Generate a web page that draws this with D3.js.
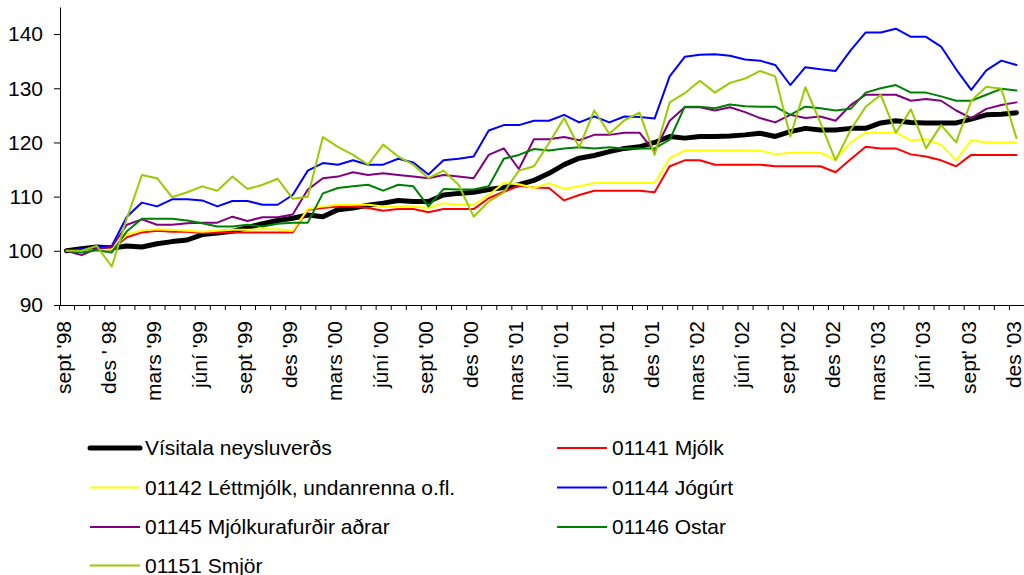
<!DOCTYPE html>
<html>
<head>
<meta charset="utf-8">
<script src="https://cdnjs.cloudflare.com/ajax/libs/d3/7.8.5/d3.min.js"></script>
<style>
body { margin: 0; background: #fff; }
svg { font-family: "Liberation Sans", Arial, sans-serif; }
</style>
</head>
<body>
<div id="chart"></div>
<script>
var width = 1024;
var height = 575;

// months sept '98 .. des '03 (64 months), label on every 3rd
var months = d3.range(64);
var tickLabels = ["sept '98", "des ' 98", "mars '99", "júní '99", "sept '99", "des '99",
    "mars '00", "júní '00", "sept '00", "des '00", "mars '01", "júní '01", "sept '01",
    "des '01", "mars '02", "júní '02", "sept '02", "des '02", "mars '03", "júní '03",
    "sept' 03", "des '03"];
var yTicks = [90, 100, 110, 120, 130, 140];

var visitala = [100.0, 100.4, 100.7, 100.5, 100.9, 100.7, 101.3, 101.7, 102.0, 103.0, 103.3, 103.6, 104.3, 105.0, 105.6, 106.0,
    106.6, 106.3, 107.6, 107.9, 108.4, 108.8, 109.3, 109.1, 109.1, 110.3, 110.6, 110.8, 111.3, 111.7, 112.2, 113.0,
    114.3, 115.9, 117.1, 117.6, 118.3, 118.9, 119.2, 120.0, 121.1, 120.8, 121.1, 121.1, 121.2, 121.4, 121.7, 121.1,
    122.0, 122.6, 122.3, 122.3, 122.6, 122.6, 123.6, 124.0, 123.7, 123.6, 123.6, 123.6, 124.3, 125.1, 125.2, 125.5];
var mjolk = [100.0, 100.1, 100.3, 100.3, 102.5, 103.4, 103.7, 103.5, 103.5, 103.3, 103.4, 103.4, 103.4, 103.4, 103.4, 103.4,
    107.6, 107.9, 108.2, 108.2, 107.9, 107.4, 107.7, 107.7, 107.1, 107.7, 107.7, 107.7, 109.7, 110.9, 112.0, 111.7,
    111.6, 109.3, 110.3, 111.1, 111.1, 111.1, 111.1, 110.8, 115.6, 116.7, 116.7, 115.9, 115.9, 115.9, 115.9, 115.6,
    115.6, 115.6, 115.6, 114.5, 116.9, 119.2, 118.9, 118.9, 117.8, 117.4, 116.7, 115.6, 117.7, 117.7, 117.7, 117.7];
var lettmjolk = [100.0, 99.8, 100.2, 100.3, 103.0, 103.8, 104.0, 103.9, 103.7, 103.5, 103.7, 103.9, 103.9, 104.0, 104.0, 103.7,
    107.7, 108.2, 108.5, 108.5, 108.5, 108.2, 108.2, 108.2, 107.9, 108.8, 108.5, 108.5, 110.3, 112.5, 112.3, 111.6,
    112.5, 111.4, 111.9, 112.5, 112.5, 112.5, 112.5, 112.5, 117.1, 118.5, 118.5, 118.5, 118.5, 118.5, 118.5, 117.8,
    118.1, 118.1, 118.1, 116.8, 120.0, 121.8, 121.8, 121.8, 120.4, 120.6, 119.6, 116.7, 120.4, 120.0, 120.0, 120.0];
var jogurt = [100.0, 100.3, 100.7, 100.9, 106.3, 108.9, 108.2, 109.5, 109.5, 109.3, 108.2, 109.2, 109.2, 108.5, 108.5, 110.3,
    114.8, 116.2, 115.9, 116.7, 115.9, 115.9, 117.0, 116.3, 114.1, 116.7, 117.0, 117.4, 122.2, 123.2, 123.2, 124.0,
    124.0, 125.1, 123.7, 124.8, 123.7, 124.8, 124.7, 124.4, 132.2, 135.8, 136.2, 136.3, 136.0, 135.3, 135.1, 134.3,
    130.6, 133.9, 133.5, 133.2, 137.0, 140.3, 140.3, 141.0, 139.5, 139.5, 137.7, 133.5, 129.7, 133.3, 135.1, 134.3];
var mjolkurafurdir = [100.0, 99.2, 100.4, 100.7, 104.8, 105.8, 104.8, 104.8, 105.1, 105.2, 105.2, 106.3, 105.5, 106.2, 106.2, 106.7,
    111.3, 113.4, 113.7, 114.5, 114.0, 114.3, 114.0, 113.7, 113.4, 114.0, 113.7, 113.4, 117.7, 118.9, 115.1, 120.6,
    120.6, 121.0, 120.4, 121.4, 121.4, 121.8, 121.8, 118.3, 124.0, 126.5, 126.5, 125.9, 126.5, 125.6, 124.5, 123.7,
    125.1, 124.5, 124.8, 124.0, 126.9, 128.8, 128.8, 128.8, 127.7, 128.0, 127.7, 125.9, 124.5, 126.2, 126.9, 127.4];
var ostar = [100.0, 99.7, 100.1, 99.7, 103.6, 105.9, 105.9, 105.9, 105.6, 105.1, 104.5, 104.5, 104.8, 104.5, 105.0, 105.2,
    105.2, 110.6, 111.6, 111.9, 112.2, 111.1, 112.2, 111.9, 108.2, 111.4, 111.3, 111.3, 111.9, 117.0, 117.7, 118.8,
    118.5, 118.9, 119.1, 118.9, 119.1, 118.9, 118.9, 118.9, 120.5, 126.6, 126.6, 126.3, 127.0, 126.7, 126.6, 126.6,
    125.1, 126.6, 126.3, 125.9, 126.2, 129.2, 130.0, 130.6, 129.2, 129.2, 128.5, 127.7, 127.7, 128.8, 129.9, 129.6];
var smjor = [100.0, 100.0, 100.9, 97.1, 106.0, 114.0, 113.4, 109.9, 110.8, 111.9, 111.1, 113.7, 111.4, 112.2, 113.3, 109.6,
    110.0, 121.0, 119.2, 117.7, 115.9, 119.6, 117.4, 115.9, 113.4, 114.8, 112.2, 106.3, 109.1, 110.8, 114.8, 115.6,
    119.9, 124.5, 119.1, 125.9, 121.6, 124.1, 125.5, 117.7, 127.4, 129.1, 131.4, 129.2, 131.0, 131.8, 133.2, 132.2,
    121.1, 130.2, 123.6, 116.7, 122.3, 126.6, 128.8, 121.8, 126.1, 118.9, 123.2, 120.0, 127.7, 130.3, 129.9, 120.8];

var seriesNames = ["Vísitala neysluverðs", "01141 Mjólk", "01142 Léttmjólk, undanrenna o.fl.", "01144 Jógúrt",
    "01145 Mjólkurafurðir aðrar", "01146 Ostar", "01151 Smjör"];
var seriesValues = [visitala, mjolk, lettmjolk, jogurt, mjolkurafurdir, ostar, smjor];
var seriesColors = ["#000000", "#ff0000", "#ffff00", "#0000ff", "#800080", "#008000", "#99cc00"];
var seriesWidths = [5, 2, 2, 2, 2, 2, 2];

var series = seriesNames.map(function(n, i) {
    return { name: n, values: seriesValues[i], color: seriesColors[i], w: seriesWidths[i] };
});

var svg = d3.select("#chart").append("svg")
    .attr("width", width)
    .attr("height", height);

var plotLeft = 59, plotRight = 1024, plotBottom = 305, plotTop = 7;

var x = d3.scaleBand().domain(months).range([plotLeft, plotRight]);
var xb = d3.scaleLinear().domain([0, months.length]).range([plotLeft, plotRight]);
var y = d3.scaleLinear().domain([90, 145]).range([plotBottom, plotTop]);

//Y axis
var yAxis = svg.append("g")
    .attr("transform", "translate(" + (plotLeft + 1) + ",0)")
    .call(d3.axisLeft(y).tickValues(yTicks).tickSize(6).tickSizeOuter(0).tickPadding(11));
yAxis.selectAll("text").attr("font-size", 21).attr("fill", "#000").attr("font-family", "Liberation Sans, Arial, sans-serif");
yAxis.selectAll("line, path").attr("stroke", "#000");

//X axis ticks at month boundaries
var xAxis = svg.append("g")
    .attr("transform", "translate(0," + plotBottom + ")")
    .call(d3.axisBottom(xb).tickValues(d3.range(months.length + 1)).tickSize(5).tickSizeOuter(0).tickFormat(""));
xAxis.selectAll("line, path").attr("stroke", "#000");

//X labels, rotated
svg.append("g").selectAll("text")
    .data(tickLabels)
    .enter()
    .append("text")
    .attr("transform", function(d, i) {
        var cx = x(i * 3) + x.bandwidth() / 2 - 3;
        return "translate(" + cx + "," + (plotBottom + 16) + ") rotate(-90)";
    })
    .attr("text-anchor", "end")
    .attr("dy", "0.35em")
    .attr("font-size", 21)
    .attr("fill", "#000")
    .text(function(d) { return d; });

//Lines
var line = d3.line()
    .x(function(d, i) { return x(i) + x.bandwidth() / 2; })
    .y(function(d) { return y(d); });

svg.append("g").selectAll("path")
    .data(series)
    .enter()
    .append("path")
    .attr("d", function(d) { return line(d.values); })
    .attr("fill", "none")
    .attr("stroke", function(d) { return d.color; })
    .attr("stroke-width", function(d) { return d.w; })
    .attr("stroke-linejoin", "round")
    .attr("stroke-linecap", "round");

//Legend, 2 columns
var legendCols = [90, 557];
var legendRows = [448, 487.5, 527, 565.5];
var legend = svg.append("g").selectAll("g")
    .data(series)
    .enter()
    .append("g")
    .attr("transform", function(d, i) {
        return "translate(" + legendCols[i % 2] + "," + legendRows[Math.floor(i / 2)] + ")";
    });
legend.append("line")
    .attr("x1", 0).attr("x2", 50)
    .attr("stroke", function(d) { return d.color; })
    .attr("stroke-width", function(d) { return d.w; })
    .attr("stroke-linecap", function(d) { return d.w > 2 ? "round" : "butt"; });
legend.append("text")
    .attr("x", 55)
    .attr("dy", "0.35em")
    .attr("font-size", 21)
    .attr("fill", "#000")
    .text(function(d) { return d.name; });
</script>
</body>
</html>
